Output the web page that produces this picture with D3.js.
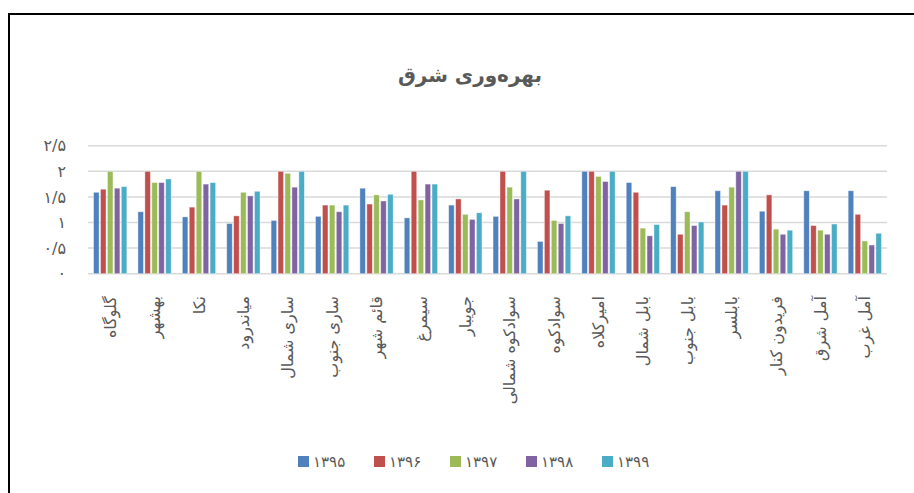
<!DOCTYPE html>
<html>
<head>
<meta charset="utf-8">
<script src="https://cdn.jsdelivr.net/npm/d3@7"></script>
<style>
  body { margin: 0; background: #fff; }
  text { font-family: "DejaVu Sans", "Noto Sans", sans-serif; fill: #595959; }
</style>
</head>
<body>
<div class="chart"></div>
<script>
var categories = ["گلوگاه", "بهشهر", "نکا", "میاندرود", "ساری شمال", "ساری جنوب", "قائم شهر", "سیمرغ", "جویبار",
    "سوادکوه شمالی", "سوادکوه", "امیرکلاه", "بابل شمال", "بابل جنوب", "بابلسر", "فریدون کنار", "آمل شرق", "آمل غرب"];
var years = ["۱۳۹۵", "۱۳۹۶", "۱۳۹۷", "۱۳۹۸", "۱۳۹۹"];
var colors = ["#4F81BD", "#C0504D", "#9BBB59", "#8064A2", "#4BACC6"];

var v1395 = [1.59, 1.21, 1.11, 0.98, 1.04, 1.12, 1.67, 1.09, 1.34, 1.12, 0.63, 2.0, 1.78, 1.70, 1.62, 1.22, 1.62, 1.62];
var v1396 = [1.65, 2.0, 1.30, 1.13, 2.0, 1.34, 1.36, 2.0, 1.46, 2.0, 1.63, 2.0, 1.59, 0.77, 1.34, 1.54, 0.94, 1.16];
var v1397 = [2.0, 1.78, 2.0, 1.59, 1.96, 1.34, 1.54, 1.44, 1.16, 1.69, 1.04, 1.90, 0.89, 1.21, 1.69, 0.87, 0.85, 0.64];
var v1398 = [1.67, 1.78, 1.75, 1.52, 1.69, 1.21, 1.42, 1.75, 1.06, 1.46, 0.98, 1.80, 0.74, 0.94, 2.0, 0.77, 0.77, 0.56];
var v1399 = [1.70, 1.85, 1.78, 1.61, 2.0, 1.34, 1.55, 1.75, 1.19, 2.0, 1.13, 2.0, 0.96, 1.01, 2.0, 0.85, 0.97, 0.79];
var series = [v1395, v1396, v1397, v1398, v1399];

var yTicks = [0, 0.5, 1, 1.5, 2, 2.5];
var yTickLabels = ["۰", "۰/۵", "۱", "۱/۵", "۲", "۲/۵"];
var title = "بهره‌وری شرق";

function chart() {
    var W = 914, H = 493;
    var plot = {left: 88, right: 887, top: 145.7, bottom: 273.7};

    var svg = d3.select(".chart").append("svg")
        .attr("width", W)
        .attr("height", H);

    // outer frame (only top and left are visible in the crop)
    svg.append("path")
        .attr("d", "M9,500 V14 H920")
        .attr("fill", "none")
        .attr("stroke", "#000")
        .attr("stroke-width", 2);

    var x = d3.scaleBand()
        .domain(categories)
        .range([plot.left, plot.right])
        .paddingInner(0.25)
        .paddingOuter(0.125);

    var x1 = d3.scaleBand()
        .domain(d3.range(years.length))
        .range([0, x.bandwidth()])
        .paddingInner(0.2);

    var y = d3.scaleLinear()
        .domain([0, 2.5])
        .range([plot.bottom, plot.top]);

    // gridlines
    svg.append("g")
        .selectAll("line")
        .data(yTicks)
        .join("line")
        .attr("x1", plot.left)
        .attr("x2", plot.right)
        .attr("y1", d => y(d))
        .attr("y2", d => y(d))
        .attr("stroke", "#d9d9d9")
        .attr("stroke-width", 1.5);

    // y labels
    svg.append("g")
        .selectAll("text")
        .data(yTicks)
        .join("text")
        .attr("x", 66)
        .attr("y", d => y(d))
        .attr("dy", "0.35em")
        .attr("text-anchor", "end")
        .style("font-size", "16px")
        .text((d, i) => yTickLabels[i]);

    // bars
    var groups = svg.append("g")
        .selectAll("g")
        .data(categories)
        .join("g")
        .attr("transform", d => "translate(" + x(d) + ",0)");

    groups.selectAll("rect")
        .data((c, ci) => series.map((s, si) => ({si: si, v: s[ci]})))
        .join("rect")
        .attr("x", d => x1(d.si))
        .attr("width", x1.bandwidth())
        .attr("y", d => y(d.v))
        .attr("height", d => y(0) - y(d.v))
        .attr("fill", d => colors[d.si])
        .attr("stroke", "#fff")
        .attr("stroke-opacity", 0.5)
        .attr("stroke-width", 0.8);

    // category labels, rotated
    svg.append("g")
        .selectAll("text")
        .data(categories)
        .join("text")
        .attr("transform", d => "translate(" + (x(d) + x.bandwidth() / 2) + ",296) rotate(-90)")
        .attr("dy", "0.35em")
        .attr("text-anchor", "end")
        .style("font-size", "16px")
        .text(d => d);

    // title
    svg.append("text")
        .attr("x", 470)
        .attr("y", 82)
        .attr("text-anchor", "middle")
        .style("font-size", "20px")
        .style("font-weight", "bold")
        .text(title);

    // legend
    var legend = svg.append("g")
        .selectAll("g")
        .data(years)
        .join("g")
        .attr("transform", (d, i) => "translate(" + (298 + i * 76) + ",456)");

    legend.append("rect")
        .attr("width", 11)
        .attr("height", 11)
        .attr("fill", (d, i) => colors[i]);

    legend.append("text")
        .attr("x", 15)
        .attr("y", 6)
        .attr("dy", "0.35em")
        .style("font-size", "15px")
        .text(d => d);
}

chart();
</script>
</body>
</html>
